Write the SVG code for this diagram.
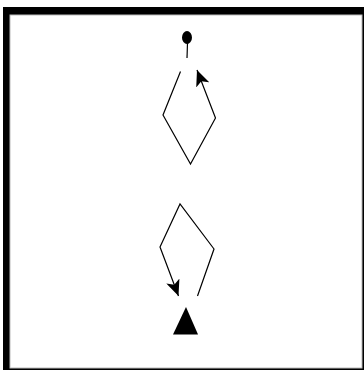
<svg xmlns="http://www.w3.org/2000/svg" width="364" height="370" viewBox="0 0 364 370">
<style>
.ln{fill:none;stroke:#000;stroke-width:1.2}
.fill{fill:#000}
</style>
<defs>
<marker id="ah" viewBox="0 0 16 14" refX="16" refY="7" markerWidth="16" markerHeight="14" markerUnits="userSpaceOnUse" orient="auto">
<path d="M0,0 L16,7 L0,14 L4,7 Z" fill="#000"/>
</marker>
</defs>
<rect x="0" y="0" width="364" height="370" fill="#fff"/>
<g id="frame">
<rect x="3" y="7" width="361" height="363" fill="#000"/>
<rect x="10" y="15" width="352" height="353" fill="#fff" stroke="#bbb" stroke-width="1"/>
</g>
<g id="initial">
<ellipse cx="187" cy="37.5" rx="5" ry="6.5" class="fill"/>
<line x1="187.5" y1="43" x2="187" y2="58" class="ln"/>
</g>
<g id="final">
<polygon points="186,307 173,334.5 198,334.5" class="fill"/>
</g>
<g id="connectors">
<polyline class="ln" points="180.5,71.5 163,115 190.5,164 215.5,118 197,70" marker-end="url(#ah)"/>
<polyline class="ln" points="197.5,296 214,249 180,204 160,247 178.5,296" marker-end="url(#ah)"/>
</g>
</svg>
